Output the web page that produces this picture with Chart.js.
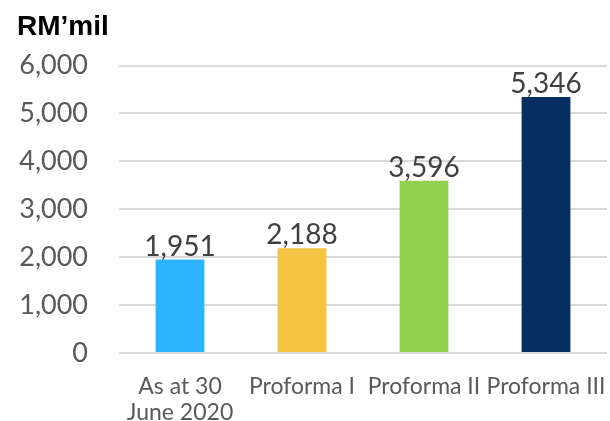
<!DOCTYPE html>
<html>
<head>
<meta charset="utf-8">
<script src="https://cdn.jsdelivr.net/npm/chart.js@4/dist/chart.umd.min.js"></script>
<style>
  html, body { margin: 0; padding: 0; background: #fff; }
  #wrap { width: 610px; height: 421px; }
</style>
</head>
<body>
<div id="wrap"><canvas id="chart"></canvas></div>
<script>
// Chart values
const categories = [['As at 30', 'June 2020'], 'Proforma I', 'Proforma II', 'Proforma III'];
const values = [1951, 2188, 3596, 5346];
const barColors = ['#2EB4FF', '#F5C242', '#92D050', '#052F63'];
const yMin = 0;
const yMax = 6000;
const yStep = 1000;

const FONT = 'Lato, "Open Sans", sans-serif';

/**
 * Value labels drawn above each bar
 */
const barValueLabels = {
  id: 'barValueLabels',
  afterDatasetsDraw(chart) {
    const ctx = chart.ctx;
    const meta = chart.getDatasetMeta(0);
    ctx.save();
    ctx.font = '28px ' + FONT;
    ctx.fillStyle = '#404040';
    ctx.textAlign = 'center';
    ctx.textBaseline = 'alphabetic';
    meta.data.forEach((bar, i) => {
      ctx.fillText(values[i].toLocaleString('en-US'), bar.x, bar.y - 4);
    });
    ctx.restore();
  },
};

new Chart(document.getElementById('chart'), {
  type: 'bar',
  data: {
    labels: categories,
    datasets: [
      {
        data: values,
        backgroundColor: barColors,
        borderWidth: 0,
        categoryPercentage: 1,
        barPercentage: 0.4,
      },
    ],
  },
  options: {
    responsive: true,
    maintainAspectRatio: false,
    animation: false,
    layout: { padding: { left: 17, right: 3, top: 0, bottom: 0 } },
    plugins: {
      legend: { display: false },
      tooltip: { enabled: false },
      title: {
        display: true,
        text: 'RM’mil',
        align: 'start',
        color: '#000',
        font: { family: '"Liberation Sans", Arial, sans-serif', size: 28, weight: 'bold', lineHeight: 1.2 },
        padding: { top: 10, bottom: 22 },
      },
    },
    scales: {
      x: {
        grid: { display: false },
        border: { display: false },
        ticks: {
          color: '#595959',
          font: { family: FONT, size: 23, lineHeight: 1.13 },
          padding: 13,
          maxRotation: 0,
          autoSkip: false,
        },
        // keep the wide end labels from shrinking the plot area
        afterFit(scale) {
          scale.height = 68;
          scale.paddingLeft = 0;
          scale.paddingRight = 0;
        },
      },
      y: {
        min: yMin,
        max: yMax,
        grid: { color: '#D9D9D9', lineWidth: 2, drawTicks: false },
        border: { display: false },
        ticks: {
          stepSize: yStep,
          color: '#595959',
          font: { family: FONT, size: 27 },
          padding: 31,
          callback: (v) => v.toLocaleString('en-US'),
        },
        afterFit(scale) { scale.width = 102; },
      },
    },
  },
  plugins: [barValueLabels],
});
</script>
</body>
</html>
